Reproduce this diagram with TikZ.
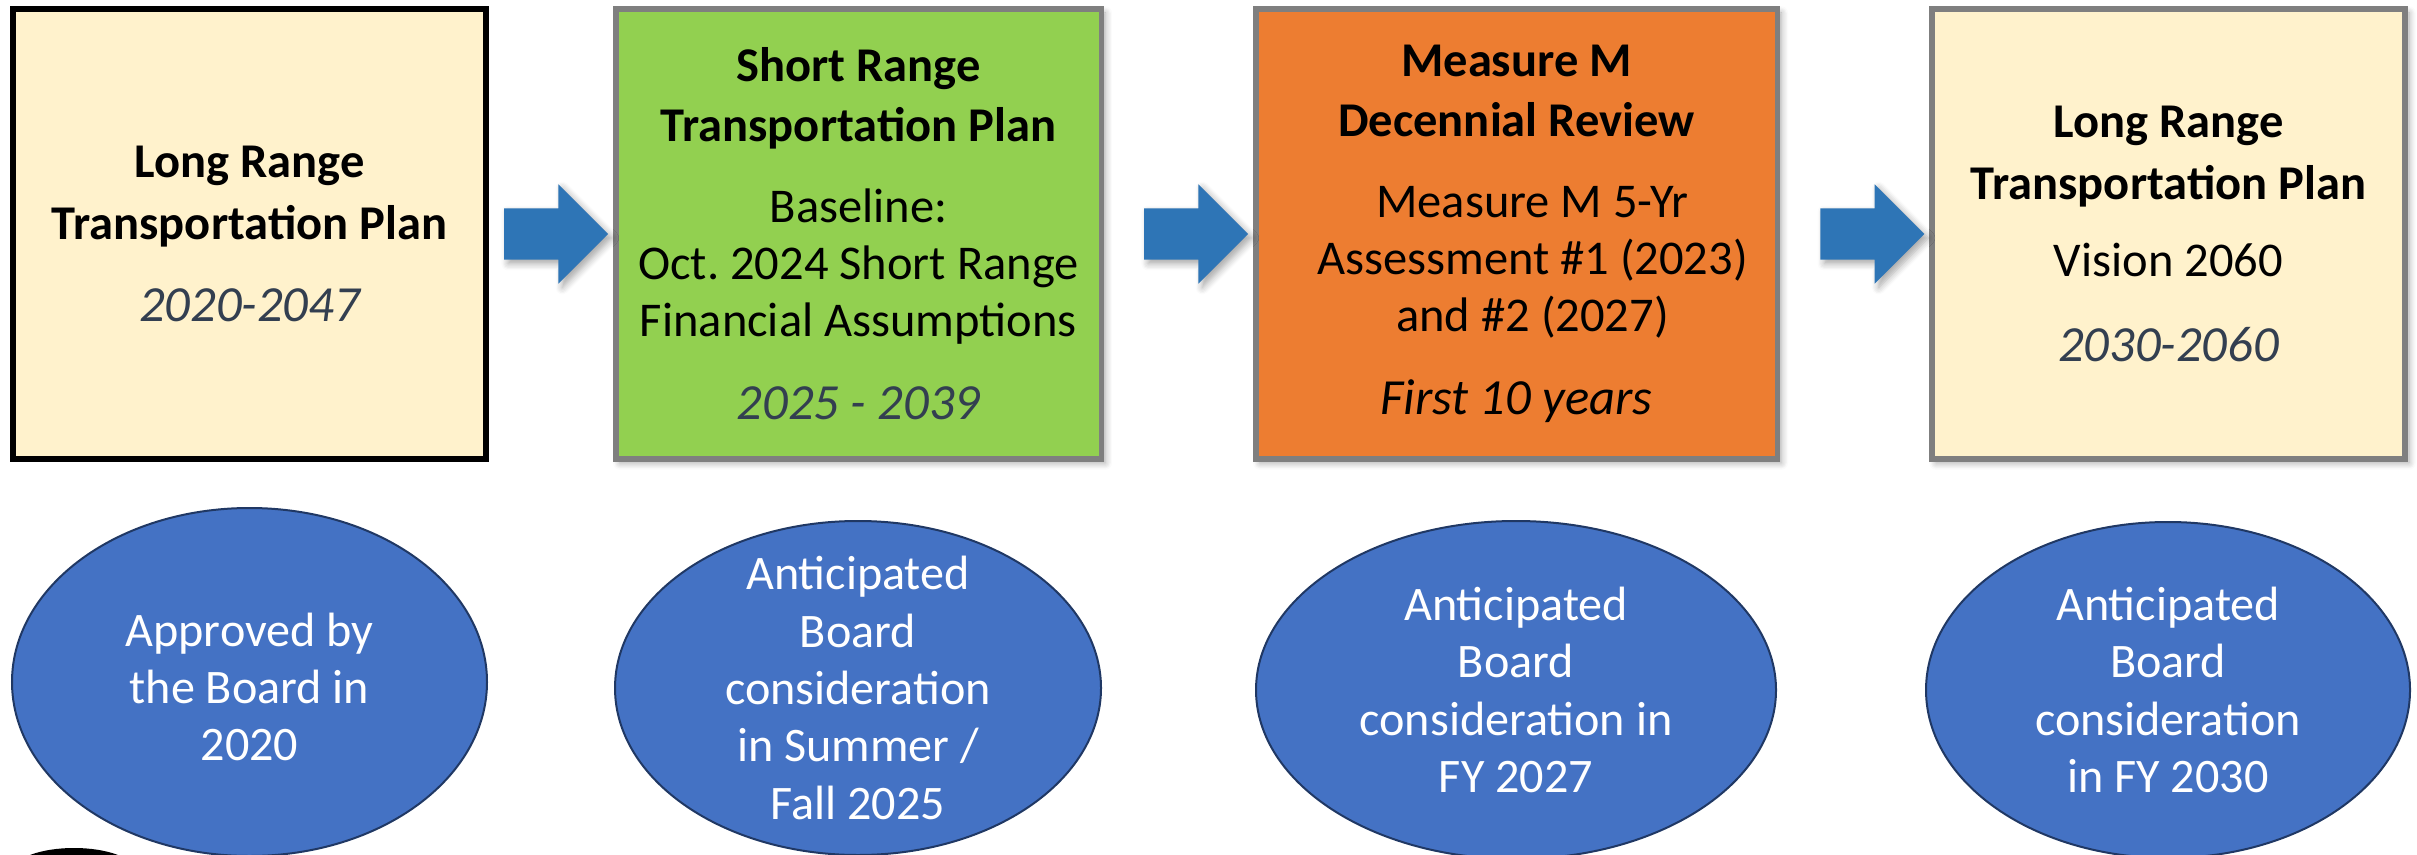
\documentclass[tikz,border=0pt]{standalone}
\usepackage{fontspec}
\setmainfont{Carlito}
\usepackage{tikz}
\usetikzlibrary{shapes.geometric,shapes.arrows,positioning,shadows.blur}
\definecolor{mycream}{RGB}{255,242,204}
\definecolor{mygreen}{RGB}{146,208,80}
\definecolor{myorange}{RGB}{237,125,49}
\definecolor{mygray}{RGB}{127,127,127}
\definecolor{myblue}{RGB}{46,117,182}
\definecolor{myellblue}{RGB}{68,114,196}
\definecolor{mynavy}{RGB}{32,56,100}
\definecolor{myslate}{RGB}{51,63,80}
\newcommand{\myyear}[1]{{\fontsize{14.4pt}{16.2pt}\selectfont\itshape #1}}
\frenchspacing

\begin{document}
\begin{tikzpicture}[
  mybox/.style={
    draw=mygray,
    line width=0.055cm,
    rectangle,
    minimum height=4.5cm,
    text width=#1,
    align=flush center,
    inner sep=0pt,
    font=\fontsize{13.8pt}{16.2pt}\selectfont
    },
  myshadow/.style={
    blur shadow={shadow xshift=0.04cm, shadow yshift=-0.04cm, shadow blur steps=6, shadow opacity=35}
    },
  myarrow/.style={
    single arrow,
    fill=myblue,
    draw=none,
    inner xsep=0pt,
    inner ysep=0.25cm,
    single arrow head extend=0.24cm,
    minimum height=1.04cm,
    myshadow
    },
  myell/.style={
    ellipse,
    draw=mynavy,
    line width=0.02cm,
    fill=myellblue,
    inner sep=0pt
    },
  mylabel/.style={
    text=white,
    align=center,
    inner sep=0pt,
    font=\fontsize{13.7pt}{16.3pt}\selectfont
    }
]
\useasboundingbox (0,0) rectangle (24.17,8.54);

\node[mybox=4.73cm, draw=black, line width=0.06cm, fill=mycream] (b1) at (2.495,6.20)
  {{\bfseries Long Range\\[0.05cm]Transportation Plan}\\[0.26cm]
   {\color{myslate}\myyear{2020-2047}}};
\node[mybox=4.855cm, fill=mygreen, myshadow] (b2) at (8.585,6.20)
  {{\bfseries Short Range\\[0.03cm]Transportation Plan}\\[0.24cm]
   Baseline:\\Oct. 2024 Short Range\\Financial Assumptions\\[0.26cm]
   {\color{myslate}\myyear{2025 - 2039}}};
\node[mybox=5.215cm, fill=myorange, myshadow] (b3) at (15.165,6.20)
  {{\bfseries Measure M\\[0.03cm]Decennial Review}\\[0.24cm]
   \hspace*{0.32cm}Measure M 5-Yr\\\hspace*{0.32cm}Assessment \#1 (2023)\\\hspace*{0.32cm}and \#2 (2027)\\[0.26cm]
   \myyear{First 10 years}};
\node[mybox=4.73cm, fill=mycream, myshadow] (b4) at (21.685,6.20)
  {{\bfseries Long Range\\[0.05cm]Transportation Plan}\\[0.2cm]
   Vision 2060\\[0.28cm]
   {\color{myslate}\myyear{2030-2060}}};

\node[myarrow, anchor=tip] (a1) at ([xshift=-0.04cm]b2.west) {};
\node[myarrow, anchor=tip] (a2) at ([xshift=-0.04cm]b3.west) {};
\node[myarrow, anchor=tip] (a3) at ([xshift=-0.04cm]b4.west) {};

\node[myell, minimum width=4.75cm, minimum height=3.48cm] (e1) at (2.495,1.72) {};
\node[myell, minimum width=4.86cm, minimum height=3.34cm] (e2) at (8.58,1.66) {};
\node[myell, minimum width=5.20cm, minimum height=3.38cm] (e3) at (15.16,1.64) {};
\node[myell, minimum width=4.84cm, minimum height=3.36cm] (e4) at (21.68,1.64) {};

\node[mylabel] (t1) at ([yshift=-0.05cm]e1.center) {Approved by\\the Board in\\2020};
\node[mylabel] (t2) at (e2.center) {Anticipated\\Board\\consideration\\in Summer /\\Fall 2025};
\node[mylabel] (t3) at (e3.center) {Anticipated\\Board\\consideration in\\FY 2027};
\node[mylabel] (t4) at (e4.center) {Anticipated\\Board\\consideration\\in FY 2030};

\fill[black] (0.74,-0.16) ellipse [x radius=0.6cm, y radius=0.22cm];
\end{tikzpicture}
\end{document}
